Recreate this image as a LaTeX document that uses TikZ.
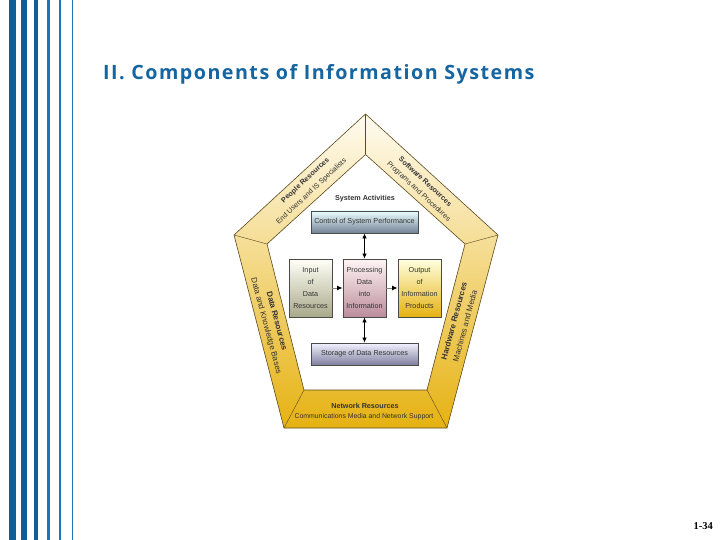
\documentclass[tikz,border=0pt]{standalone}
\usepackage{fontspec}
\usetikzlibrary{arrows.meta}
\setmainfont{Liberation Sans}
\newfontfamily\titlefont[LetterSpace=7.5]{Open Sans}
\newfontfamily\pagefont{Liberation Serif}
\definecolor{stripedark}{HTML}{0F5F96}
\definecolor{stripelight}{HTML}{1C76B5}
\definecolor{titleblue}{HTML}{1565A0}
\definecolor{edgegrey}{HTML}{4A4A48}
\definecolor{paneledge}{HTML}{5A4A1E}
\definecolor{ringtop}{HTML}{FFFBF0}
\definecolor{ringmid}{HTML}{F0CC5C}
\definecolor{ringbot}{HTML}{E6B212}
\begin{document}
\begin{tikzpicture}[x=1pt,y=-1pt,
	panellabel/.style={font=\fontsize{7.2}{8}\selectfont,text=black!80,inner sep=0pt},
	panelhead/.style={panellabel,font=\fontsize{7.2}{8}\selectfont\bfseries},
	sidelabel/.style={panellabel,font=\fontsize{8}{9}\selectfont},
	sidehead/.style={panellabel,font=\fontsize{8}{9}\selectfont\bfseries},
	activitybox/.style={draw=edgegrey,line width=0.8pt,minimum width=43pt,minimum height=58pt,inner sep=0pt,align=center,font=\fontsize{7.2}{12}\selectfont,text=black!80},
	widebox/.style={activitybox,minimum width=107pt,minimum height=22pt},
	linkarrow/.style={{Latex[length=5pt,width=4.5pt]}-{Latex[length=5pt,width=4.5pt]},black,line width=0.7pt},
	flowarrow/.style={-{Latex[black,length=5.5pt,width=5pt]},black!50,line width=1pt}]
	\useasboundingbox (0,0) rectangle (720,540);

	% Draw stripes at the left edge
	\foreach \xa/\xb/\shadecol in {9/16/stripedark,21/27/stripedark,34/38/stripedark,47/50/stripelight,59/61/stripelight,72/73/stripelight}
		\fill[\shadecol] (\xa,0) rectangle (\xb,540);

	% Draw title and page number
	\node[anchor=base west,inner sep=0pt,text=titleblue,font=\fontsize{19.7}{22}\titlefont\bfseries] (title) at (103,80) {II. Components of Information Systems};
	\node[anchor=base east,inner sep=0pt,font=\fontsize{10.5}{12}\pagefont\bfseries] (pagenum) at (713,529) {1-34};

	% Draw pentagon ring
	\shade[even odd rule,top color=ringtop,middle color=ringmid,bottom color=ringbot]
		(365.5,114) -- (498,235) -- (447,428) -- (284,428) -- (234,235) -- cycle
		(365.5,154.5) -- (465,244) -- (427,390) -- (304,390) -- (267,244) -- cycle;
	\draw[paneledge,line width=0.6pt] (365.5,114) -- (498,235) -- (447,428) -- (284,428) -- (234,235) -- cycle;
	\draw[paneledge,line width=0.6pt] (365.5,154.5) -- (465,244) -- (427,390) -- (304,390) -- (267,244) -- cycle;
	\foreach \xa/\ya/\xb/\yb in {365.5/114/365.5/154.5,498/235/465/244,447/428/427/390,284/428/304/390,234/235/267/244}
		\draw[paneledge,line width=0.4pt] (\xa,\ya) -- (\xb,\yb);

	% Label the five resources
	\node[panelhead,rotate=43] (peoplehead) at (305.5,180.5) {People Resources};
	\node[panellabel,rotate=43] (peopletext) at (311.5,191.5) {End Users and IS Specialists};
	\node[panelhead,rotate=-43] (softwarehead) at (425.5,181.5) {Software Resources};
	\node[panellabel,rotate=-43] (softwaretext) at (418.5,191.5) {Programs and Procedures};
	\node[sidehead,rotate=-75] (datahead) at (277,321) {Data Resources};
	\node[sidelabel,rotate=-75] (datatext) at (266,326) {Data and Knowledge Bases};
	\node[sidehead,rotate=75] (hardwarehead) at (454,321) {Hardware Resources};
	\node[sidelabel,rotate=75] (hardwaretext) at (465,326) {Machines and Media};
	\node[panelhead] (networkhead) at (365,406) {Network Resources};
	\node[panellabel,font=\fontsize{6.9}{8}\selectfont] (networktext) at (364,417) {Communications Media and Network Support};

	% Draw system activities
	\node[panelhead] (activities) at (365,199) {System Activities};
	\node[widebox,top color=black!2!cyan!8!white,bottom color=cyan!45!blue!25!black!55] (control) at (364.5,222) {Control of System Performance};
	\node[activitybox,top color=yellow!3!white,bottom color=olive!30!black!40!white] (input) at (310.5,288) {Input\\of\\Data\\Resources};
	\node[activitybox,top color=red!4!white,bottom color=purple!55!black!45!white] (processing) at (364.5,288) {Processing\\Data\\into\\Information};
	\node[activitybox,top color=yellow!12!white,bottom color=ringbot] (output) at (419.5,288) {Output\\of\\Information\\Products};
	\node[widebox,top color=blue!5!white,bottom color=blue!25!black!50!white] (storage) at (364.5,354) {Storage of Data Resources};

	% Connect the boxes
	\draw[linkarrow] (control) -- (processing);
	\draw[linkarrow] (processing) -- (storage);
	\draw[flowarrow] (input) -- (processing);
	\draw[flowarrow] (processing) -- (output);
\end{tikzpicture}
\end{document}
